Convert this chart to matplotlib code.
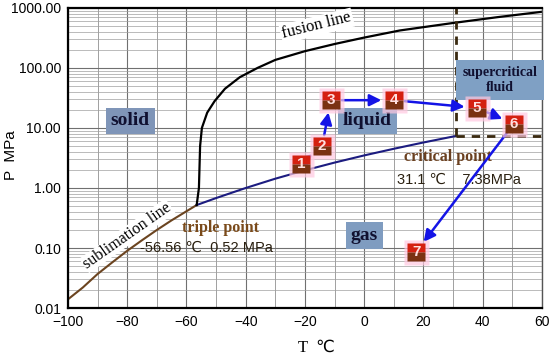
import numpy as np
import matplotlib
matplotlib.use("Agg")
import matplotlib.pyplot as plt
from matplotlib.ticker import FixedLocator, LogLocator, NullFormatter

# phase boundaries (T in degC, P in MPa)
sub_T = [-100, -95, -90, -85, -80, -75, -70, -65, -60, -56.56]
sub_P = [0.014, 0.022, 0.037, 0.058, 0.090, 0.135, 0.20, 0.29, 0.41, 0.52]
vap_T = [-56.56, -50, -40, -30, -20, -10, 0, 10, 20, 31.1]
vap_P = [0.52, 0.68, 1.0, 1.43, 1.97, 2.65, 3.49, 4.5, 5.73, 7.38]
fus_T = [-56.56, -55.8, -55.4, -54.8, -53.0, -50.5, -47, -42, -36, -30, -20, -10, 0, 12, 30, 45, 60]
fus_P = [0.52, 1.0, 5.0, 10, 18, 28, 45, 70, 100, 136, 190, 250, 320, 420, 560, 700, 860]

triple = (-56.56, 0.52)
critical = (31.1, 7.38)

# process path points 1..7
path_T = [-21.4, -14.2, -11.3, 10.0, 38.1, 50.5, 17.5]
path_P = [2.5, 5.0, 29, 29, 21.5, 11.7, 0.086]
path_lbl = ["1", "2", "3", "4", "5", "6", "7"]

y_ticks = [0.01, 0.1, 1, 10, 100, 1000]
y_lbls = ["0.01", "0.10", "1.00", "10.00", "100.00", "1000.00"]
x_ticks = [-100, -80, -60, -40, -20, 0, 20, 40, 60]

serif = "Liberation Serif"
sans = "Liberation Sans"

fig = plt.figure(figsize=(5.5, 3.57), dpi=100)
ax = fig.add_axes([0.1236, 0.137, 0.8618, 0.841])
ax.set_yscale("log")
ax.set_xlim(-100, 60)
ax.set_ylim(0.01, 1000)

ax.xaxis.set_major_locator(FixedLocator(x_ticks))
ax.xaxis.set_minor_locator(FixedLocator(np.arange(-100, 61, 10)))
ax.yaxis.set_major_locator(FixedLocator(y_ticks))
ax.yaxis.set_minor_locator(LogLocator(base=10, subs=np.arange(2, 10)))
ax.yaxis.set_minor_formatter(NullFormatter())
ax.set_yticklabels(y_lbls, family=sans, fontsize=10)
ax.set_xticklabels([str(t).replace("-", "\u2212") for t in x_ticks], family=sans, fontsize=10)
ax.tick_params(which="both", length=0, pad=5)

ax.grid(which="major", axis="x", color="#707070", lw=0.8)
ax.grid(which="minor", axis="x", color="#909090", lw=0.6)
ax.grid(which="major", axis="y", color="#707070", lw=0.8)
ax.grid(which="minor", axis="y", color="#a0a0a0", lw=0.5)
ax.set_axisbelow(True)
for s in ["left", "bottom", "top"]:
    ax.spines[s].set_linewidth(1.6)
ax.spines["right"].set_linewidth(1.0)
ax.spines["right"].set_color("#555555")

ax.set_ylabel("P  MPa", family=sans, fontsize=11)
ax.yaxis.set_label_coords(-0.105, 0.51)
ax.set_xlabel("T  \u2103", family=[serif, "DejaVu Sans"], fontsize=12)
ax.xaxis.set_label_coords(0.525, -0.105)

# phase lines
ax.plot(sub_T, sub_P, color="#6b4420", lw=1.5)
ax.plot(vap_T, vap_P, color="#1c1c80", lw=1.5)
ax.plot(fus_T, fus_P, color="black", lw=1.6)
ax.plot([critical[0], critical[0]], [critical[1], 1000], ls=(0, (3, 2.5)), color="#3a2a10", lw=2)
ax.plot([critical[0], 60], [critical[1], critical[1]], ls=(0, (3, 2.5)), color="#3a2a10", lw=2)

# region labels
box = dict(boxstyle="square,pad=0.25", fc="#7f95b8", ec="none")
ax.text(-79, 13.1, "solid", family=serif, fontsize=14, fontweight="bold", color="#101030", ha="center", va="center", bbox=box)
ax.text(1, 13.1, "liquid", family=serif, fontsize=14, fontweight="bold", color="#101030", ha="center", va="center", bbox=dict(box, fc="#7f9cc0"))
ax.text(0, 0.16, "gas", family=serif, fontsize=14, fontweight="bold", color="#101030", ha="center", va="center", bbox=dict(box, fc="#7f9cc0"))
ax.text(45.8, 63, "supercritical\nfluid", family=serif, fontsize=10, fontweight="bold", color="#101030", ha="center", va="center", linespacing=1.15,
        bbox=dict(boxstyle="square,pad=0.45", fc="#7fa0c4", ec="none"))

ax.text(-16, 500, "fusion line", family=serif, fontsize=12, rotation=14, ha="center", va="center",
        bbox=dict(boxstyle="square,pad=0.1", fc="white", ec="none"))
ax.text(-80, 0.16, "sublimation line", family=serif, fontsize=11.5, rotation=35, ha="center", va="center",
        bbox=dict(boxstyle="square,pad=0.05", fc="white", ec="none"))
ax.text(-48.5, 0.215, "triple point", family=serif, fontsize=11.5, fontweight="bold", color="#7a4a1a", ha="center", va="center")
ax.text(-75.7, 0.10, "-56.56 \u2103  0.52 MPa", family=[sans, "DejaVu Sans"], fontsize=10.5, color="#2a2010", ha="left", va="center")
ax.text(28.3, 3.3, "critical point", family=serif, fontsize=11.5, fontweight="bold", color="#6a4020", ha="center", va="center")
ax.text(11, 1.36, "31.1 \u2103    7.38MPa", family=[sans, "DejaVu Sans"], fontsize=10.5, color="#2a2010", ha="left", va="center")

# path arrows
for i in range(len(path_T) - 1):
    ax.annotate("", xy=(path_T[i + 1], path_P[i + 1]), xytext=(path_T[i], path_P[i]),
                arrowprops=dict(arrowstyle="-|>,head_length=0.7,head_width=0.35", color="#1414e6", lw=1.8,
                                shrinkA=8, shrinkB=9), zorder=4)

# path markers
ax.plot(path_T, path_P, ls="none", marker="s", ms=18, mfc="#ffc8e0", mec="none", alpha=0.7, zorder=5)
ax.plot(path_T, path_P, ls="none", marker="s", ms=13, fillstyle="top", mfc="#d42010", mfcalt="#7a3212", mec="none", zorder=6)
for t, p, l in zip(path_T, path_P, path_lbl):
    ax.text(t, p, l, family=sans, fontsize=11, fontweight="bold", color="#ffe0e0", ha="center", va="center", zorder=7)

fig.savefig("out.png", dpi=100)
